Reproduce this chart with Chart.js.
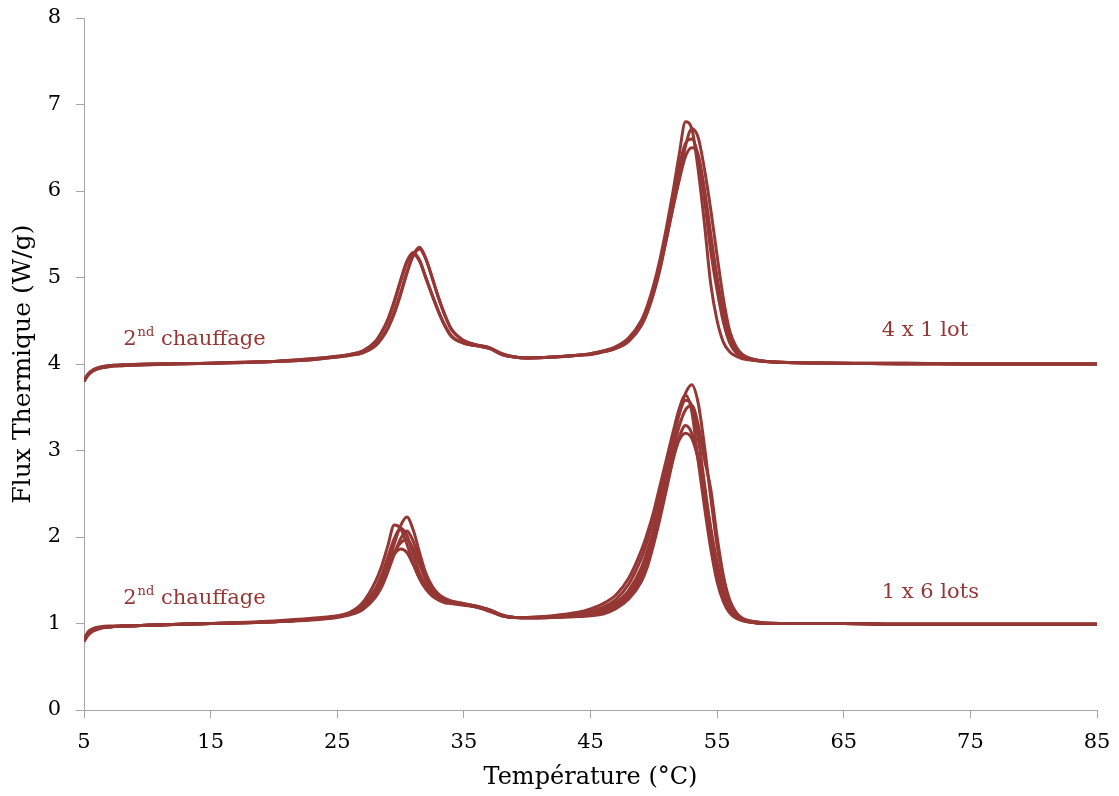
<!DOCTYPE html>
<html lang="fr">
<head>
<meta charset="UTF-8">
<title>Flux thermique - 2nd chauffage</title>
<script src="https://cdn.jsdelivr.net/npm/chart.js"></script>
<style>
  html, body { margin: 0; padding: 0; background: #fff; }
  #wrap { width: 1119px; height: 796px; position: relative; }
</style>
</head>
<body>
<div id="wrap"><canvas id="dsc"></canvas></div>
<script>
// température (°C) commune à toutes les courbes
var temps = [5, 5.3, 5.7, 6.2, 7, 8, 10, 15, 20, 23, 25, 26, 27, 28, 28.5, 29, 29.5, 30, 30.5, 31, 31.5, 32, 32.5, 33, 33.5, 34, 35, 36, 37, 38, 39, 40, 42, 44, 45, 46, 47, 48, 49, 49.5, 50, 50.5, 51, 51.5, 52, 52.5, 53, 53.5, 54, 54.5, 55, 55.5, 56, 56.5, 57, 58, 60, 65, 70, 75, 80, 85];

var xTicks = [5, 15, 25, 35, 45, 55, 65, 75, 85];
var yTicks = [0, 1, 2, 3, 4, 5, 6, 7, 8];

// 4 x 1 lot (haut)
var lotA = [3.80, 3.88, 3.93, 3.96, 3.98, 3.99, 4.00, 4.01, 4.03, 4.06, 4.09, 4.11, 4.15, 4.26, 4.37, 4.52, 4.73, 4.97, 5.19, 5.29, 5.20, 5.00, 4.80, 4.61, 4.45, 4.33, 4.24, 4.21, 4.18, 4.11, 4.08, 4.07, 4.08, 4.10, 4.12, 4.15, 4.20, 4.30, 4.50, 4.68, 4.92, 5.22, 5.58, 5.98, 6.42, 6.80, 6.72, 6.25, 5.62, 4.92, 4.50, 4.25, 4.14, 4.09, 4.06, 4.04, 4.02, 4.01, 4.01, 4.00, 4.00, 4.00];
var lotB = [3.80, 3.87, 3.92, 3.95, 3.97, 3.98, 3.99, 4.01, 4.03, 4.05, 4.08, 4.10, 4.13, 4.21, 4.29, 4.41, 4.58, 4.80, 5.05, 5.26, 5.35, 5.22, 5.00, 4.77, 4.57, 4.41, 4.27, 4.22, 4.19, 4.12, 4.08, 4.07, 4.08, 4.10, 4.11, 4.14, 4.18, 4.26, 4.44, 4.60, 4.82, 5.10, 5.45, 5.80, 6.15, 6.52, 6.72, 6.62, 6.25, 5.78, 5.25, 4.75, 4.38, 4.20, 4.11, 4.05, 4.02, 4.01, 4.00, 4.00, 4.00, 4.00];
var lotC = [3.81, 3.88, 3.93, 3.96, 3.98, 3.99, 4.00, 4.01, 4.03, 4.06, 4.09, 4.11, 4.15, 4.25, 4.36, 4.50, 4.71, 4.95, 5.17, 5.27, 5.19, 4.99, 4.79, 4.60, 4.44, 4.32, 4.24, 4.21, 4.18, 4.11, 4.08, 4.07, 4.08, 4.10, 4.12, 4.15, 4.19, 4.28, 4.47, 4.64, 4.88, 5.17, 5.52, 5.90, 6.28, 6.55, 6.60, 6.40, 5.90, 5.30, 4.85, 4.48, 4.24, 4.13, 4.08, 4.04, 4.02, 4.01, 4.01, 4.00, 4.00, 4.00];
var lotD = [3.80, 3.87, 3.92, 3.95, 3.97, 3.98, 3.99, 4.01, 4.03, 4.05, 4.08, 4.10, 4.13, 4.21, 4.30, 4.42, 4.60, 4.82, 5.06, 5.25, 5.33, 5.21, 4.99, 4.76, 4.56, 4.40, 4.27, 4.22, 4.19, 4.12, 4.08, 4.07, 4.08, 4.10, 4.11, 4.14, 4.18, 4.27, 4.45, 4.62, 4.85, 5.12, 5.45, 5.80, 6.12, 6.40, 6.50, 6.42, 6.02, 5.50, 5.00, 4.60, 4.32, 4.16, 4.09, 4.05, 4.02, 4.01, 4.00, 4.00, 4.00, 4.00];

// 1 x 6 lots (bas)
var lotE = [0.80, 0.87, 0.92, 0.95, 0.96, 0.97, 0.98, 1.00, 1.02, 1.05, 1.08, 1.11, 1.17, 1.34, 1.48, 1.68, 1.92, 2.13, 2.23, 2.08, 1.82, 1.58, 1.43, 1.34, 1.29, 1.26, 1.23, 1.20, 1.16, 1.10, 1.07, 1.07, 1.08, 1.10, 1.12, 1.16, 1.24, 1.38, 1.64, 1.85, 2.10, 2.42, 2.76, 3.10, 3.42, 3.66, 3.76, 3.55, 3.05, 2.45, 1.90, 1.50, 1.25, 1.12, 1.06, 1.02, 1.00, 1.00, 0.99, 0.99, 0.99, 0.99];
var lotF = [0.81, 0.90, 0.94, 0.96, 0.97, 0.97, 0.98, 1.00, 1.03, 1.06, 1.09, 1.13, 1.24, 1.48, 1.66, 1.90, 2.14, 2.10, 1.92, 1.70, 1.52, 1.40, 1.32, 1.27, 1.24, 1.23, 1.21, 1.19, 1.14, 1.09, 1.07, 1.07, 1.09, 1.13, 1.17, 1.23, 1.33, 1.52, 1.84, 2.05, 2.30, 2.60, 2.90, 3.20, 3.48, 3.64, 3.45, 2.88, 2.35, 1.86, 1.48, 1.25, 1.12, 1.06, 1.03, 1.01, 1.00, 1.00, 0.99, 0.99, 0.99, 0.99];
var lotG = [0.80, 0.88, 0.93, 0.95, 0.96, 0.97, 0.98, 1.00, 1.02, 1.05, 1.08, 1.12, 1.21, 1.40, 1.56, 1.77, 1.98, 2.10, 2.02, 1.80, 1.58, 1.44, 1.35, 1.29, 1.26, 1.24, 1.22, 1.19, 1.15, 1.09, 1.07, 1.07, 1.08, 1.11, 1.14, 1.19, 1.28, 1.45, 1.75, 1.96, 2.22, 2.52, 2.84, 3.15, 3.42, 3.58, 3.52, 3.15, 2.62, 2.08, 1.62, 1.33, 1.16, 1.08, 1.04, 1.01, 1.00, 1.00, 0.99, 0.99, 0.99, 0.99];
var lotH = [0.79, 0.86, 0.91, 0.94, 0.96, 0.97, 0.98, 1.00, 1.02, 1.04, 1.07, 1.10, 1.16, 1.30, 1.42, 1.60, 1.80, 1.98, 2.07, 1.95, 1.74, 1.53, 1.40, 1.32, 1.28, 1.25, 1.23, 1.20, 1.16, 1.10, 1.07, 1.06, 1.07, 1.09, 1.11, 1.14, 1.21, 1.34, 1.58, 1.78, 2.02, 2.32, 2.66, 2.98, 3.28, 3.47, 3.52, 3.30, 2.90, 2.55, 2.00, 1.55, 1.27, 1.13, 1.06, 1.02, 1.00, 1.00, 0.99, 0.99, 0.99, 0.99];
var lotI = [0.80, 0.88, 0.93, 0.95, 0.96, 0.97, 0.98, 1.00, 1.02, 1.05, 1.08, 1.11, 1.19, 1.36, 1.50, 1.66, 1.82, 1.93, 1.97, 1.86, 1.68, 1.50, 1.38, 1.31, 1.27, 1.25, 1.22, 1.20, 1.15, 1.09, 1.07, 1.07, 1.07, 1.08, 1.09, 1.11, 1.17, 1.28, 1.48, 1.66, 1.92, 2.22, 2.55, 2.88, 3.15, 3.29, 3.20, 2.92, 2.50, 2.02, 1.62, 1.33, 1.16, 1.08, 1.04, 1.01, 1.00, 1.00, 0.99, 0.99, 0.99, 0.99];
var lotJ = [0.81, 0.89, 0.93, 0.95, 0.96, 0.97, 0.98, 1.00, 1.02, 1.05, 1.08, 1.12, 1.20, 1.38, 1.52, 1.67, 1.80, 1.86, 1.82, 1.68, 1.52, 1.40, 1.32, 1.28, 1.25, 1.24, 1.22, 1.19, 1.15, 1.09, 1.07, 1.07, 1.08, 1.09, 1.10, 1.13, 1.19, 1.31, 1.52, 1.72, 1.98, 2.28, 2.60, 2.90, 3.12, 3.20, 3.14, 2.90, 2.52, 2.10, 1.70, 1.38, 1.18, 1.09, 1.04, 1.01, 1.00, 1.00, 0.99, 0.99, 0.99, 0.99];

var courbes = [lotA, lotB, lotC, lotD, lotE, lotF, lotG, lotH, lotI, lotJ];

var rouge = '#953735';
var axe = '#a6a6a6';
var serif = "'DejaVu Serif', 'Liberation Serif', serif";

function toPoints(vals) {
    return vals.map(function (v, i) { return { x: temps[i], y: v }; });
}

var datasets = courbes.map(function (c) {
    return {
        data: toPoints(c),
        borderColor: rouge,
        borderWidth: 3,
        pointRadius: 0,
        fill: false,
        cubicInterpolationMode: 'monotone'
    };
});

// étiquettes dans le graphique
var notes = [
    { x: 8.1, y: 4.22, main: '2', sup: 'nd', rest: ' chauffage' },
    { x: 8.1, y: 1.22, main: '2', sup: 'nd', rest: ' chauffage' },
    { x: 68.0, y: 4.32, main: '4 x 1 lot', sup: '', rest: '' },
    { x: 68.0, y: 1.29, main: '1 x 6 lots', sup: '', rest: '' }
];

var notesPlugin = {
    id: 'notes',
    afterDatasetsDraw: function (chart) {
        var ctx = chart.ctx;
        var sx = chart.scales.x, sy = chart.scales.y;
        ctx.save();
        ctx.fillStyle = rouge;
        ctx.textBaseline = 'alphabetic';
        ctx.textAlign = 'left';
        notes.forEach(function (n) {
            var px = sx.getPixelForValue(n.x);
            var py = sy.getPixelForValue(n.y);
            ctx.font = '21px ' + serif;
            ctx.fillText(n.main, px, py);
            px += ctx.measureText(n.main).width;
            if (n.sup) {
                ctx.font = '13px ' + serif;
                ctx.fillText(n.sup, px + 1, py - 9);
                px += ctx.measureText(n.sup).width + 1;
            }
            if (n.rest) {
                ctx.font = '21px ' + serif;
                ctx.fillText(n.rest, px, py);
            }
        });
        ctx.restore();
    }
};

new Chart(document.getElementById('dsc'), {
    type: 'line',
    data: { datasets: datasets },
    plugins: [notesPlugin],
    options: {
        responsive: true,
        maintainAspectRatio: false,
        animation: false,
        layout: { padding: { left: 0, right: 22, top: 18, bottom: 0 } },
        plugins: {
            legend: { display: false },
            tooltip: { enabled: false }
        },
        scales: {
            x: {
                type: 'linear',
                min: 5,
                max: 85,
                afterBuildTicks: function (axis) {
                    axis.ticks = xTicks.map(function (v) { return { value: v }; });
                },
                afterFit: function (axis) {
                    axis.height = 86;
                    axis.paddingLeft = 0;
                    axis.paddingRight = 0;
                },
                grid: { display: true, drawOnChartArea: false, drawTicks: true, tickLength: 8, color: axe },
                border: { display: true, color: axe, width: 1 },
                ticks: { color: '#000', font: { family: serif, size: 21 }, padding: 12, maxRotation: 0 },
                title: { display: true, text: 'Température (°C)', color: '#000', font: { family: serif, size: 24 }, padding: { top: 0, bottom: 4 } }
            },
            y: {
                min: 0,
                max: 8,
                afterBuildTicks: function (axis) {
                    axis.ticks = yTicks.map(function (v) { return { value: v }; });
                },
                afterFit: function (axis) {
                    axis.width = 84;
                    axis.paddingTop = 0;
                    axis.paddingBottom = 0;
                },
                grid: { display: true, drawOnChartArea: false, drawTicks: true, tickLength: 8, color: axe },
                border: { display: true, color: axe, width: 1 },
                ticks: { color: '#000', font: { family: serif, size: 21 }, padding: 15 },
                title: { display: true, text: 'Flux Thermique (W/g)', color: '#000', font: { family: serif, size: 25 }, padding: { top: 8, bottom: 0 } }
            }
        }
    }
});
</script>
</body>
</html>
